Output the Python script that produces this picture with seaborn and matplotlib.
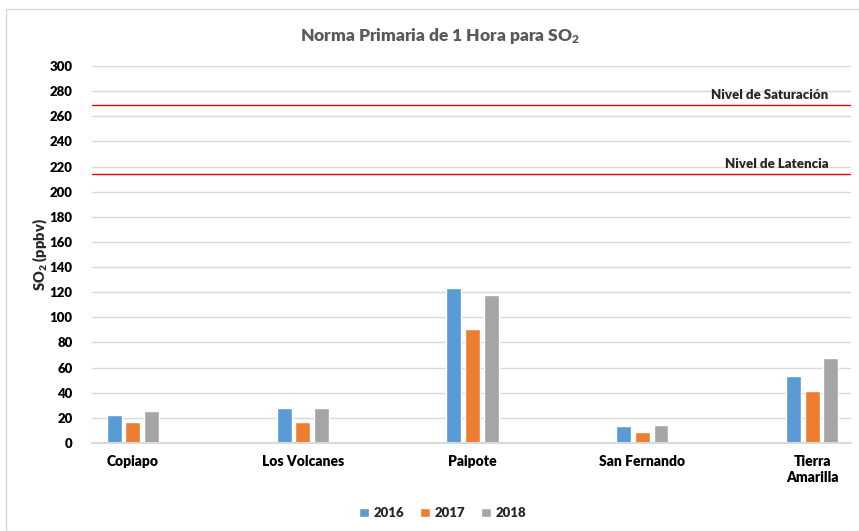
import matplotlib
matplotlib.use("Agg")
import matplotlib.pyplot as plt
import seaborn as sns
import pandas as pd
from matplotlib.patches import Rectangle

categories = ["Copiapo", "Los Volcanes", "Paipote", "San Fernando", "Tierra\nAmarilla"]
years = ["2016", "2017", "2018"]
v2016 = [22.5, 28, 123, 13.5, 53.5]
v2017 = [16.5, 16.5, 91, 8.5, 41]
v2018 = [25.5, 28, 118, 14.5, 68]
nivel_latencia = 214
nivel_saturacion = 269
yticks = list(range(0, 301, 20))

rows = []
for yr, vals in zip(years, [v2016, v2017, v2018]):
    for c, v in zip(categories, vals):
        rows.append({"Estacion": c, "Año": yr, "SO2": v})
df = pd.DataFrame(rows)

sns.set_theme(style="white")
FW = "heavy"
plt.rcParams["font.family"] = ["Lato", "DejaVu Sans"]
plt.rcParams["mathtext.fontset"] = "custom"
plt.rcParams["mathtext.rm"] = "Lato:" + FW
plt.rcParams["mathtext.bf"] = "Lato:" + FW
plt.rcParams["mathtext.default"] = "rm"

W, H = 859, 531
fig = plt.figure(figsize=(W / 100, H / 100), dpi=100)
fig.patches.append(Rectangle((6 / W, 0), 1, 1 - 9 / H, transform=fig.transFigure,
                             fill=False, edgecolor="#d9d9d9", lw=1))
ax = fig.add_axes([92 / W, 1 - 443 / H, (851 - 92) / W, (443 - 66) / H])

palette = ["#5B9BD5", "#ED7D31", "#A5A5A5"]
sns.barplot(data=df, x="Estacion", y="SO2", hue="Año", palette=palette, ax=ax,
            width=0.33, gap=0.2, saturation=1, legend=True, errorbar=None)

ax.set_ylim(0, 300)
ax.set_xlim(-0.241, 4.229)
ax.set_yticks(yticks)
ax.yaxis.grid(True, color="#d9d9d9", lw=1)
ax.set_axisbelow(True)
for s in ["top", "right", "left"]:
    ax.spines[s].set_visible(False)
ax.spines["bottom"].set_color("#d9d9d9")
ax.spines["bottom"].set_linewidth(1.5)
ax.tick_params(axis="y", length=0, pad=14, labelsize=9.5)
ax.tick_params(axis="x", length=0, pad=9, labelsize=10)
for lbl in ax.get_yticklabels() + ax.get_xticklabels():
    lbl.set_fontweight(FW)
    lbl.set_color("black")
ax.set_xlabel("")
ax.set_ylabel(r"SO$_2$ (ppbv)", fontsize=10.5, fontweight=FW, labelpad=0)

ax.axhline(nivel_saturacion, color="#e60000", lw=1)
ax.axhline(nivel_latencia, color="#e60000", lw=1)
ax.text(0.97, nivel_saturacion + 3, "Nivel de Saturación", transform=ax.get_yaxis_transform(),
        ha="right", va="bottom", fontsize=9.5, fontweight=FW)
ax.text(0.97, nivel_latencia + 3, "Nivel de Latencia", transform=ax.get_yaxis_transform(),
        ha="right", va="bottom", fontsize=9.5, fontweight=FW)

fig.text(440 / W, 1 - 36 / H, r"Norma Primaria de 1 Hora para SO$_2$", ha="center", va="center",
         fontsize=12.5, fontweight=FW, color="#595959")

leg = ax.legend(loc="center", bbox_to_anchor=(443 / W, 1 - 513 / H), bbox_transform=fig.transFigure,
                ncol=3, frameon=False, handlelength=0.7, handleheight=0.7, handletextpad=0.4,
                columnspacing=1.2, prop={"weight": FW, "size": 9.5})

fig.savefig("out.png", dpi=100)
